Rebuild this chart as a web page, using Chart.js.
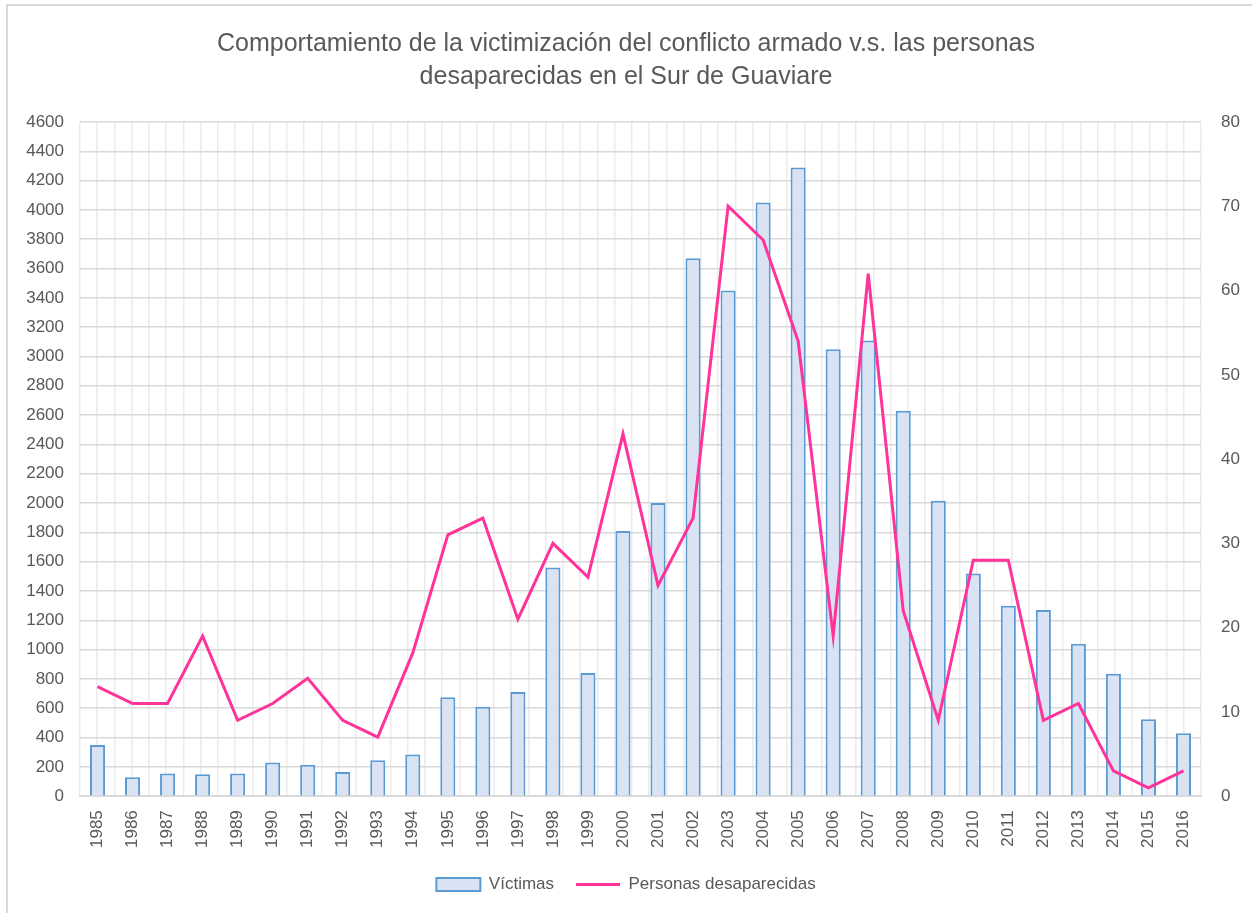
<!DOCTYPE html>
<html>
<head>
<meta charset="utf-8">
<script src="https://cdn.jsdelivr.net/npm/chart.js@4.4.0/dist/chart.umd.min.js"></script>
<style>
  html, body { margin: 0; padding: 0; background: #fff; }
  #wrap { position: relative; width: 1252px; height: 913px; }
  #frame { position: absolute; left: 6px; top: 4px; right: -4px; bottom: -4px; border-left: 2px solid #d9d9d9; border-top: 2px solid #d9d9d9; }
  canvas { position: absolute; left: 0; top: 0; }
</style>
</head>
<body>
<div id="wrap">
  <div id="frame"></div>
  <canvas id="grafico" width="1252" height="913"></canvas>
</div>
<script>
var anios = ['1985', '1986', '1987', '1988', '1989', '1990', '1991', '1992', '1993', '1994', '1995', '1996', '1997', '1998', '1999', '2000',
  '2001', '2002', '2003', '2004', '2005', '2006', '2007', '2008', '2009', '2010', '2011', '2012', '2013', '2014', '2015', '2016'];

var victimas = [350, 130, 155, 150, 155, 230, 215, 165, 245, 285, 675, 610, 710, 1560, 840, 1810,
  2000, 3670, 3450, 4050, 4290, 3050, 3110, 2630, 2015, 1520, 1300, 1270, 1040, 835, 525, 430];

var desaparecidas = [13, 11, 11, 19, 9, 11, 14, 9, 7, 17, 31, 33, 21, 30, 26, 43,
  25, 33, 70, 66, 54, 19, 62, 22, 9, 28, 28, 9, 11, 3, 1, 3];

var ticksIzq = [0, 4600, 200];
var ticksDer = [0, 80, 10];

var fuente = "'Liberation Sans', Arial, sans-serif";
var gris = '#595959';

function sinComa(v) { return String(v); }

var ctx = document.getElementById('grafico').getContext('2d');

var grafico = new Chart(ctx, {
  type: 'bar',
  data: {
    labels: anios,
    datasets: [{
      type: 'line',
      label: 'Personas desaparecidas',
      data: desaparecidas,
      yAxisID: 'y2',
      borderColor: '#ff3399',
      backgroundColor: '#ff3399',
      borderWidth: 3,
      pointRadius: 0,
      pointStyle: 'line',
      tension: 0,
      order: 1
    }, {
      label: 'Víctimas',
      data: victimas,
      yAxisID: 'y',
      backgroundColor: '#dae3f3',
      borderColor: '#5b9bd5',
      borderWidth: 2,
      borderSkipped: 'bottom',
      pointStyle: 'rect',
      barPercentage: 0.43,
      categoryPercentage: 1,
      order: 2
    }]
  },
  options: {
    responsive: false,
    animation: false,
    layout: { padding: { left: 0, right: 0, top: 0, bottom: 10 } },
    plugins: {
      title: {
        display: true,
        text: ['Comportamiento de la victimización del conflicto armado v.s. las personas', 'desaparecidas en el Sur de Guaviare'],
        color: gris,
        font: { family: fuente, size: 25, weight: 'normal', lineHeight: 1.32 },
        padding: { top: 28, bottom: 28 }
      },
      legend: {
        position: 'bottom',
        reverse: true,
        labels: {
          usePointStyle: true,
          pointStyleWidth: 44,
          boxHeight: 13,
          color: gris,
          padding: 22,
          font: { family: fuente, size: 17 }
        }
      },
      tooltip: { enabled: false }
    },
    scales: {
      x: {
        grid: { display: false },
        border: { color: '#d9d9d9', width: 2 },
        ticks: {
          color: gris,
          font: { family: fuente, size: 17 },
          minRotation: 90,
          maxRotation: 90,
          autoSkip: false,
          padding: 6
        }
      },
      xg: {
        type: 'linear',
        position: 'bottom',
        min: -0.5,
        max: anios.length - 0.5,
        ticks: { display: false, stepSize: 0.5 },
        grid: { color: '#ebebeb', lineWidth: 1.5, drawTicks: false },
        border: { display: false },
        afterFit: function(s) { s.height = 0; }
      },
      y: {
        position: 'left',
        min: ticksIzq[0],
        max: ticksIzq[1],
        ticks: {
          stepSize: ticksIzq[2],
          callback: sinComa,
          color: gris,
          font: { family: fuente, size: 17 },
          padding: 16
        },
        grid: { color: '#d9d9d9', lineWidth: 1.5, drawTicks: false },
        border: { display: false },
        afterFit: function(s) { s.width = 80; }
      },
      y2: {
        position: 'right',
        min: ticksDer[0],
        max: ticksDer[1],
        ticks: {
          stepSize: ticksDer[2],
          callback: sinComa,
          color: gris,
          font: { family: fuente, size: 17 },
          padding: 12
        },
        grid: { display: false },
        border: { display: false },
        afterFit: function(s) { s.width = 51; }
      }
    }
  }
});
</script>
</body>
</html>
